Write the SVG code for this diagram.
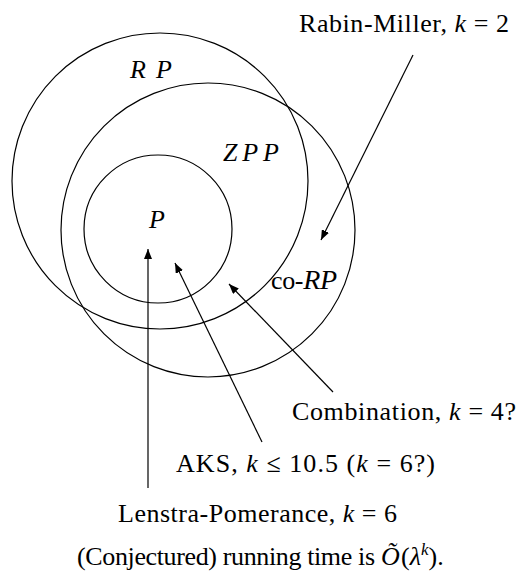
<svg xmlns="http://www.w3.org/2000/svg" width="520" height="572" viewBox="0 0 520 572">
<style>
text{font-family:"Liberation Serif","DejaVu Serif",serif;font-size:26px;fill:#000}
.m{font-style:italic}
.c{fill:none;stroke:#000;stroke-width:1.2}
.a{fill:none;stroke:#000;stroke-width:1.2;marker-end:url(#ah)}
</style>
<defs>
<marker id="ah" viewBox="0 0 10 8" refX="10" refY="4" markerWidth="10" markerHeight="8" markerUnits="userSpaceOnUse" orient="auto">
<path d="M0,0 L10,4 L0,8 Z" fill="#000"/>
</marker>
</defs>
<rect width="520" height="572" fill="#fff"/>
<g id="RP"><circle class="c" cx="160" cy="181" r="148"/><text x="130" y="78" class="m" font-size="30" textLength="42" lengthAdjust="spacing">RP</text></g>
<g id="ZPP"><circle class="c" cx="208" cy="230" r="147"/><text x="223" y="161" class="m" font-size="30" textLength="56" lengthAdjust="spacing">ZPP</text></g>
<g id="P"><circle class="c" cx="158" cy="229" r="74"/><text x="149" y="228" class="m" font-size="29">P</text></g>
<g id="coRP"><text x="271" y="289" textLength="66" lengthAdjust="spacing">co-<tspan class="m" font-size="28">RP</tspan></text></g>
<g id="rabin"><text x="299" y="32" textLength="210" lengthAdjust="spacing">Rabin-Miller, <tspan class="m">k</tspan> = 2</text></g>
<g id="comb"><text x="292" y="420" textLength="224" lengthAdjust="spacing">Combination, <tspan class="m">k</tspan> = 4?</text></g>
<g id="aks"><text x="176" y="472" textLength="259" lengthAdjust="spacing">AKS, <tspan class="m">k</tspan> ≤ 10.5  (<tspan class="m">k</tspan> = 6?)</text></g>
<g id="lp"><text x="118" y="522" textLength="279" lengthAdjust="spacing">Lenstra-Pomerance, <tspan class="m">k</tspan> = 6</text></g>
<g id="note">
<text x="77" y="565" textLength="298" lengthAdjust="spacing">(Conjectured) running time is</text>
<text x="381" y="565" class="m" font-size="26">Õ</text>
<text x="401" y="565">(<tspan class="m">λ</tspan><tspan class="m" font-size="17" dy="-10">k</tspan><tspan dy="10">).</tspan></text>
</g>
<g id="connectors">
<line class="a" x1="413" y1="55" x2="321" y2="240"/>
<line class="a" x1="333" y1="392" x2="229" y2="284"/>
<line class="a" x1="262" y1="442" x2="175" y2="263"/>
<line class="a" x1="148" y1="488" x2="148" y2="249"/>
</g>
</svg>
